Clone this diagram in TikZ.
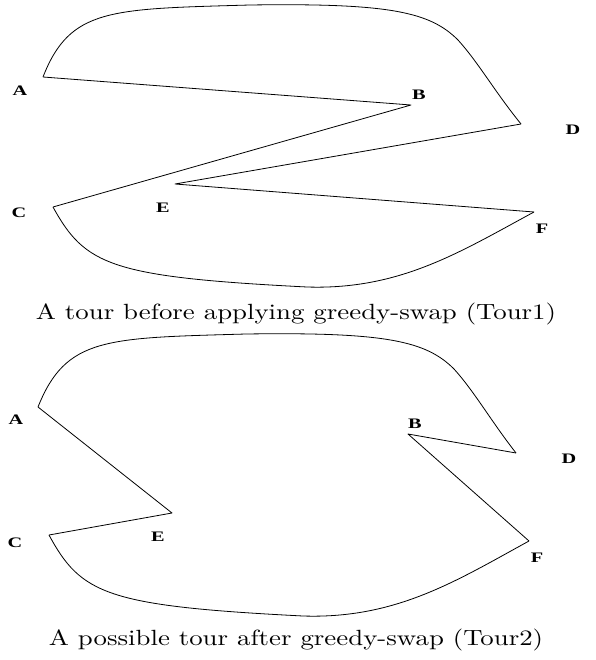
\documentclass[tikz,border=0pt]{standalone}
\usepackage{fontspec}
\newfontfamily\ptfont{Liberation Serif}
\newfontfamily\capfont{lmroman10-regular.otf}
\usetikzlibrary{positioning}
\newcommand{\wide}[2]{\scalebox{#1}[1]{#2}}
\tikzset{
  leg/.style={line width=0.8pt, line join=round},
  city/.style={font=\ptfont\bfseries\fontsize{14.5}{16}\selectfont, inner sep=0pt},
  caption/.style={font=\capfont\fontsize{22}{26}\selectfont, inner sep=0pt}
}
\begin{document}
\begin{tikzpicture}[x=1pt,y=-1pt]
\useasboundingbox (0,0) rectangle (595,660);
% Tour1
\coordinate (A1) at (43,77);
\coordinate (B1) at (411,105);
\coordinate (C1) at (53,207);
\coordinate (D1) at (521,124);
\coordinate (E1) at (175,184);
\coordinate (F1) at (534,212);
\node[city] (lA1) at (20,91) {\wide{1.4}{A}};
\node[city] (lB1) at (419,95) {\wide{1.4}{B}};
\node[city] (lC1) at (19,213) {\wide{1.4}{C}};
\node[city] (lD1) at (573,130) {\wide{1.4}{D}};
\node[city] (lE1) at (163,208) {\wide{1.4}{E}};
\node[city] (lF1) at (542,229) {\wide{1.4}{F}};
\draw[leg] (A1) -- (B1) -- (C1);
\draw[leg] (F1) -- (E1) -- (D1);
\draw[leg] (C1) .. controls (85,265) and (110,277) .. (307,287)
                .. controls (400,290) and (460,252) .. (F1);
\draw[leg] (A1) .. controls (70,8) and (110,9) .. (250,5)
                .. controls (390,3) and (430,12) .. (458,40)
                .. controls (478,62) and (495,92) .. (D1);
\node[caption] (cap1) at (296,314) {\wide{1.22}{A tour before applying greedy-swap (Tour1)}};
% Tour2
\coordinate (A2) at (38,407);
\coordinate (B2) at (408,434);
\coordinate (C2) at (49,535);
\coordinate (D2) at (516,453);
\coordinate (E2) at (172,513);
\coordinate (F2) at (529,541);
\node[city] (lA2) at (16,420) {\wide{1.4}{A}};
\node[city] (lB2) at (415,424) {\wide{1.4}{B}};
\node[city] (lC2) at (15,543) {\wide{1.4}{C}};
\node[city] (lD2) at (569,459) {\wide{1.4}{D}};
\node[city] (lE2) at (158,537) {\wide{1.4}{E}};
\node[city] (lF2) at (537,558) {\wide{1.4}{F}};
\draw[leg] (A2) -- (E2) -- (C2);
\draw[leg] (F2) -- (B2) -- (D2);
\begin{scope}[shift={(-4,329)}]
\draw[leg] (C2) .. controls (85,265) and (110,277) .. (307,287)
                .. controls (400,290) and (460,252) .. (F2);
\draw[leg] (A2) .. controls (70,8) and (110,9) .. (250,5)
                .. controls (390,3) and (430,12) .. (458,40)
                .. controls (478,62) and (495,92) .. (D2);
\end{scope}
\node[caption] (cap2) at (296,640) {\wide{1.22}{A possible tour after greedy-swap (Tour2)}};
\end{tikzpicture}
\end{document}
